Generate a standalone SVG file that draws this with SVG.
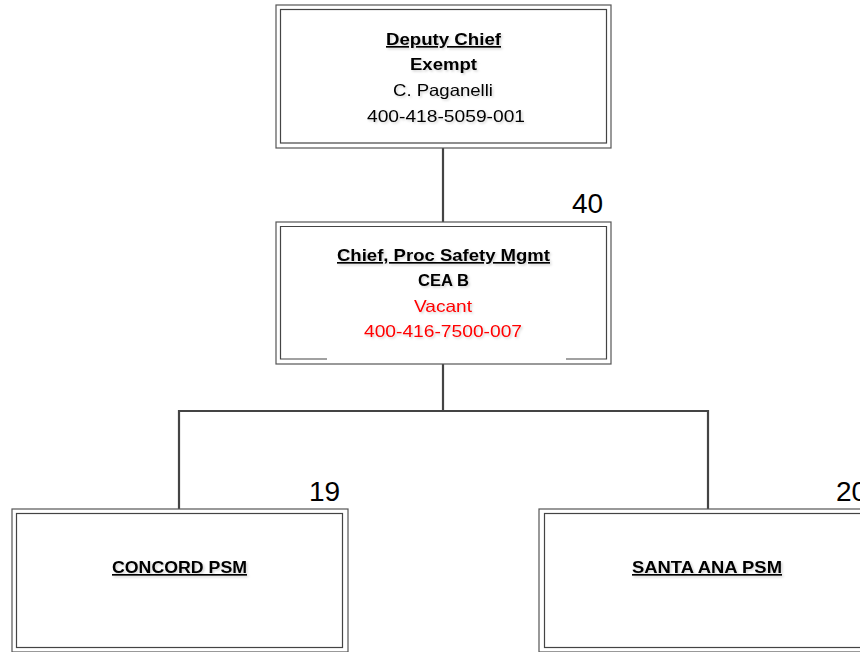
<svg xmlns="http://www.w3.org/2000/svg" width="860" height="652" viewBox="0 0 860 652">
<defs>
<style>
.outer{fill:#fff;stroke:#555;stroke-width:1.2}
.inner{fill:none;stroke:#444;stroke-width:1.2}
.conn{fill:none;stroke:#444;stroke-width:2.2}
text{font-family:"Liberation Sans",Arial,sans-serif;font-size:16.5px;text-anchor:middle;fill:#000}
.b{font-weight:bold}
.u{text-decoration:underline}
.red{fill:#ff0000}
.num{font-size:28px;text-anchor:start}
</style>
<filter id="sh" x="-10%" y="-20%" width="120%" height="150%">
<feDropShadow dx="1.5" dy="1.5" stdDeviation="1" flood-color="#000" flood-opacity="0.18"/>
</filter>
</defs>
<rect width="860" height="652" fill="#fff"/>
<g id="connectors">
<line class="conn" x1="443" y1="148" x2="443" y2="222"/>
<polyline class="conn" points="443,364 443,411"/>
<polyline class="conn" points="179,509 179,411 708,411 708,509"/>
</g>
<g id="deputy-chief">
<rect class="outer" x="276" y="5" width="335" height="143"/>
<rect class="inner" x="280.5" y="9.5" width="326" height="133.5"/>
<g filter="url(#sh)">
<text x="443.5" y="45" class="b u" textLength="115" lengthAdjust="spacingAndGlyphs">Deputy Chief</text>
<text x="443.5" y="70" class="b" textLength="67" lengthAdjust="spacingAndGlyphs">Exempt</text>
<text x="443" y="96" textLength="100" lengthAdjust="spacingAndGlyphs">C. Paganelli</text>
<text x="446" y="122" textLength="158" lengthAdjust="spacingAndGlyphs">400-418-5059-001</text>
</g>
</g>
<g id="chief-psm">
<text class="num" x="572" y="213">40</text>
<rect class="outer" x="276" y="222" width="335" height="142"/>
<path class="inner" d="M327,359 H280.5 V226.5 H606.5 V359 H566"/>
<g filter="url(#sh)">
<text x="443.5" y="261" class="b u" textLength="213" lengthAdjust="spacingAndGlyphs">Chief, Proc Safety Mgmt</text>
<text x="443.5" y="286" class="b" textLength="51" lengthAdjust="spacingAndGlyphs">CEA B</text>
<text x="443" y="312" class="red" textLength="58" lengthAdjust="spacingAndGlyphs">Vacant</text>
<text x="443" y="337" class="red" textLength="158" lengthAdjust="spacingAndGlyphs">400-416-7500-007</text>
</g>
</g>
<g id="concord-psm">
<text class="num" x="309" y="501">19</text>
<rect class="outer" x="12" y="509" width="336" height="143"/>
<rect class="inner" x="16.5" y="513.5" width="326" height="134"/>
<text x="179.5" y="573" class="b u" filter="url(#sh)" textLength="135" lengthAdjust="spacingAndGlyphs">CONCORD PSM</text>
</g>
<g id="santa-ana-psm">
<text class="num" x="836" y="501">20</text>
<rect class="outer" x="539" y="509" width="336" height="143"/>
<rect class="inner" x="544.5" y="513.5" width="326" height="134"/>
<text x="707" y="573" class="b u" filter="url(#sh)" textLength="150" lengthAdjust="spacingAndGlyphs">SANTA ANA PSM</text>
</g>
</svg>
